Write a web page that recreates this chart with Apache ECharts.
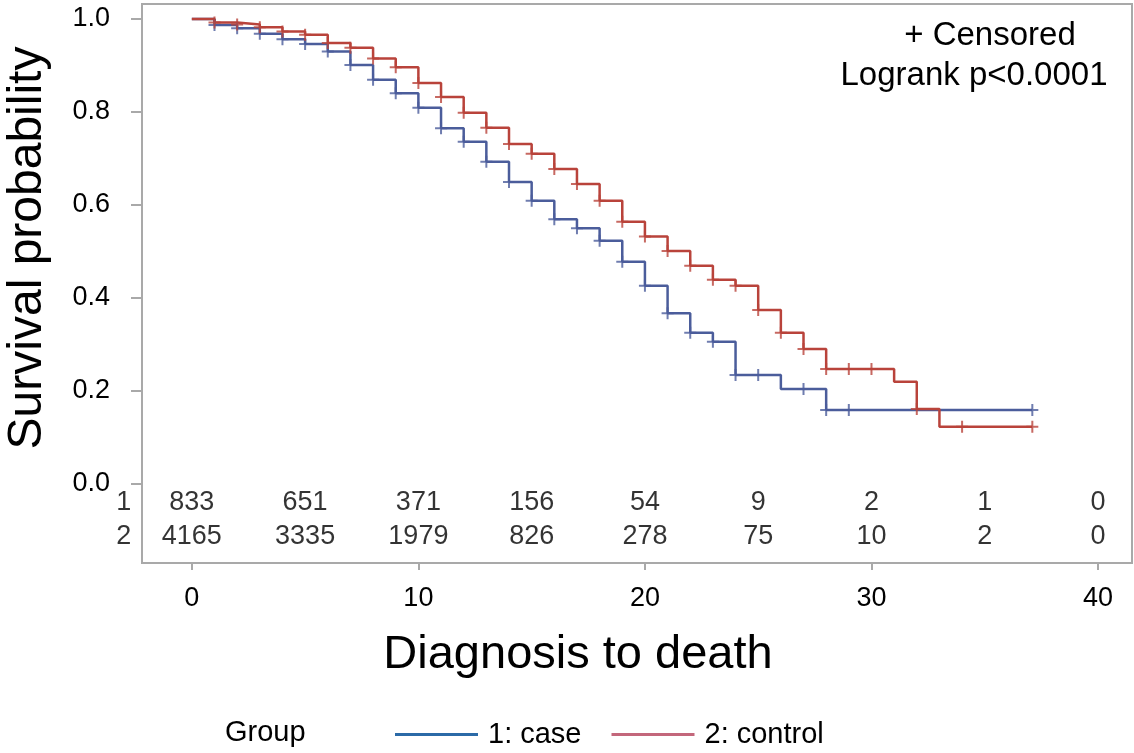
<!DOCTYPE html>
<html>
<head>
<meta charset="utf-8">
<script src="https://cdn.jsdelivr.net/npm/echarts@6/dist/echarts.min.js"></script>
<style>
html, body { margin: 0; padding: 0; background: #fff; }
#chart { width: 1134px; height: 753px; }
</style>
</head>
<body>
<div id="chart"></div>
<script>
// Kaplan-Meier step data (time, survival after the drop)
var caseTime = [0, 1, 2, 3, 4, 5, 6, 7, 8, 9, 10, 11, 12, 13, 14, 15, 16, 17, 18, 19, 20, 21, 22, 23, 24, 26, 28, 37.1];
var caseSurv = [1.0, 0.987, 0.980, 0.968, 0.956, 0.946, 0.930, 0.901, 0.869, 0.840, 0.809, 0.765, 0.736, 0.693, 0.649, 0.609, 0.569, 0.550, 0.523, 0.478, 0.426, 0.367, 0.325, 0.306, 0.234, 0.204, 0.159, 0.159];
var controlTime = [0, 1, 2, 3, 4, 5, 6, 7, 8, 9, 10, 11, 12, 13, 14, 15, 16, 17, 18, 19, 20, 21, 22, 23, 24, 25, 26, 27, 28, 31, 32, 33, 37.1];
var controlSurv = [1.0, 0.992, 0.988, 0.982, 0.973, 0.966, 0.948, 0.938, 0.915, 0.896, 0.862, 0.832, 0.798, 0.766, 0.731, 0.710, 0.677, 0.645, 0.609, 0.564, 0.532, 0.501, 0.469, 0.439, 0.426, 0.374, 0.325, 0.290, 0.247, 0.220, 0.161, 0.123, 0.123];

// censored observation times
var caseCensor = [1, 2, 3, 4, 5, 6, 7, 8, 9, 10, 11, 12, 13, 14, 15, 16, 17, 18, 19, 20, 21, 22, 23, 24, 25, 27, 28, 29, 37.1];
var controlCensor = [1, 2, 3, 4, 5, 6, 7, 8, 9, 10, 11, 12, 13, 14, 15, 16, 17, 18, 19, 20, 21, 22, 23, 24, 25, 26, 27, 28, 29, 30, 32, 34, 37.1];

// number at risk table
var atRiskTime = [0, 5, 10, 15, 20, 25, 30, 35, 40];
var caseAtRisk = [833, 651, 371, 156, 54, 9, 2, 1, 0];
var controlAtRisk = [4165, 3335, 1979, 826, 278, 75, 10, 2, 0];

var xTicks = [0, 10, 20, 30, 40];
var yTicks = [0, 0.2, 0.4, 0.6, 0.8, 1.0];

var font = 'Liberation Sans, Arial, sans-serif';
var gray = '#a9a9a9';
var caseColor = '#4b5d9b';
var controlColor = '#b9433b';
var plusMark = 'path://M5,0H7V12H5Z M0,5H12V7H0Z';
var row1Y = -0.039, row2Y = -0.114;

function survAt(times, surv, t) {
    var v = surv[0];
    for (var i = 0; i < times.length; i++) {
        if (times[i] <= t) v = surv[i];
    }
    return v;
}

function pairs(a, b) {
    return a.map(function (t, i) { return [t, b[i]]; });
}

var myChart = echarts.init(document.getElementById('chart'));

var riskLabel = {
    show: true,
    position: 'inside',
    color: '#000',
    fontFamily: font,
    fontSize: 27,
    formatter: function (p) { return p.value[2]; }
};

var option = {
    animation: false,
    backgroundColor: '#fff',
    grid: {
        show: true,
        left: 142,
        right: 2,
        top: 4,
        bottom: 190,
        borderColor: gray,
        borderWidth: 2,
        containLabel: false
    },
    xAxis: {
        type: 'value',
        min: -2.2,
        max: 41.5,
        axisLine: { show: true, onZero: false, lineStyle: { color: gray, width: 2 } },
        axisTick: { show: true, customValues: xTicks, length: 7, lineStyle: { color: gray, width: 2 } },
        axisLabel: { customValues: xTicks, margin: 22, color: '#000', fontFamily: font, fontSize: 27 },
        splitLine: { show: false }
    },
    yAxis: {
        type: 'value',
        min: -0.17,
        max: 1.032,
        axisLine: { show: true, onZero: false, lineStyle: { color: gray, width: 2 } },
        axisTick: { show: true, customValues: yTicks, length: 11, lineStyle: { color: gray, width: 2 } },
        axisLabel: {
            customValues: yTicks, margin: 32, color: '#000', fontFamily: font, fontSize: 27,
            formatter: function (v) { return v.toFixed(1); }
        },
        splitLine: { show: false }
    },
    legend: {
        left: 390,
        top: 715,
        icon: 'rect',
        itemWidth: 83,
        itemHeight: 3,
        itemGap: 30,
        textStyle: { color: '#000', fontFamily: font, fontSize: 29, padding: [0, 0, 0, 5] },
        data: [
            { name: '1: case', itemStyle: { color: '#2b6aa7' } },
            { name: '2: control', itemStyle: { color: '#c3677b' } }
        ]
    },
    graphic: [
        { type: 'text', x: 225, y: 733, style: { text: 'Group', fill: '#000', font: '29px ' + font, verticalAlign: 'middle' } },
        { type: 'text', x: 990, y: 36, style: { text: '+ Censored', fill: '#000', font: '33px ' + font, align: 'center', verticalAlign: 'middle' } },
        { type: 'text', x: 974, y: 76, style: { text: 'Logrank p<0.0001', fill: '#000', font: '33px ' + font, align: 'center', verticalAlign: 'middle' } },
        { type: 'text', x: 578, y: 655, style: { text: 'Diagnosis to death', fill: '#000', font: '47px ' + font, align: 'center', verticalAlign: 'middle' } },
        { type: 'text', x: 28, y: 248, rotation: Math.PI / 2, style: { text: 'Survival probability', fill: '#000', font: '48px ' + font, align: 'center', verticalAlign: 'middle' } }
    ],
    series: [
        {
            name: '1: case',
            type: 'line',
            step: 'end',
            symbol: 'none',
            lineStyle: { color: caseColor, width: 2.5 },
            itemStyle: { color: caseColor },
            data: pairs(caseTime, caseSurv),
            z: 3
        },
        {
            name: '2: control',
            type: 'line',
            step: 'end',
            symbol: 'none',
            lineStyle: { color: controlColor, width: 2.5 },
            itemStyle: { color: controlColor },
            data: pairs(controlTime, controlSurv),
            z: 4
        },
        {
            name: 'case censored',
            type: 'scatter',
            symbol: plusMark,
            symbolSize: 12,
            itemStyle: { color: caseColor },
            data: caseCensor.map(function (t) { return [t, survAt(caseTime, caseSurv, t)]; }),
            z: 5
        },
        {
            name: 'control censored',
            type: 'scatter',
            symbol: plusMark,
            symbolSize: 12,
            itemStyle: { color: controlColor },
            data: controlCensor.map(function (t) { return [t, survAt(controlTime, controlSurv, t)]; }),
            z: 6
        },
        {
            name: 'at risk 1',
            type: 'scatter',
            symbolSize: 1,
            clip: false,
            itemStyle: { color: 'rgba(0,0,0,0)' },
            label: riskLabel,
            data: [[-3.0, row1Y, '1']].concat(atRiskTime.map(function (t, i) { return [t, row1Y, caseAtRisk[i]]; }))
        },
        {
            name: 'at risk 2',
            type: 'scatter',
            symbolSize: 1,
            clip: false,
            itemStyle: { color: 'rgba(0,0,0,0)' },
            label: riskLabel,
            data: [[-3.0, row2Y, '2']].concat(atRiskTime.map(function (t, i) { return [t, row2Y, controlAtRisk[i]]; }))
        }
    ]
};

myChart.setOption(option);
</script>
</body>
</html>
